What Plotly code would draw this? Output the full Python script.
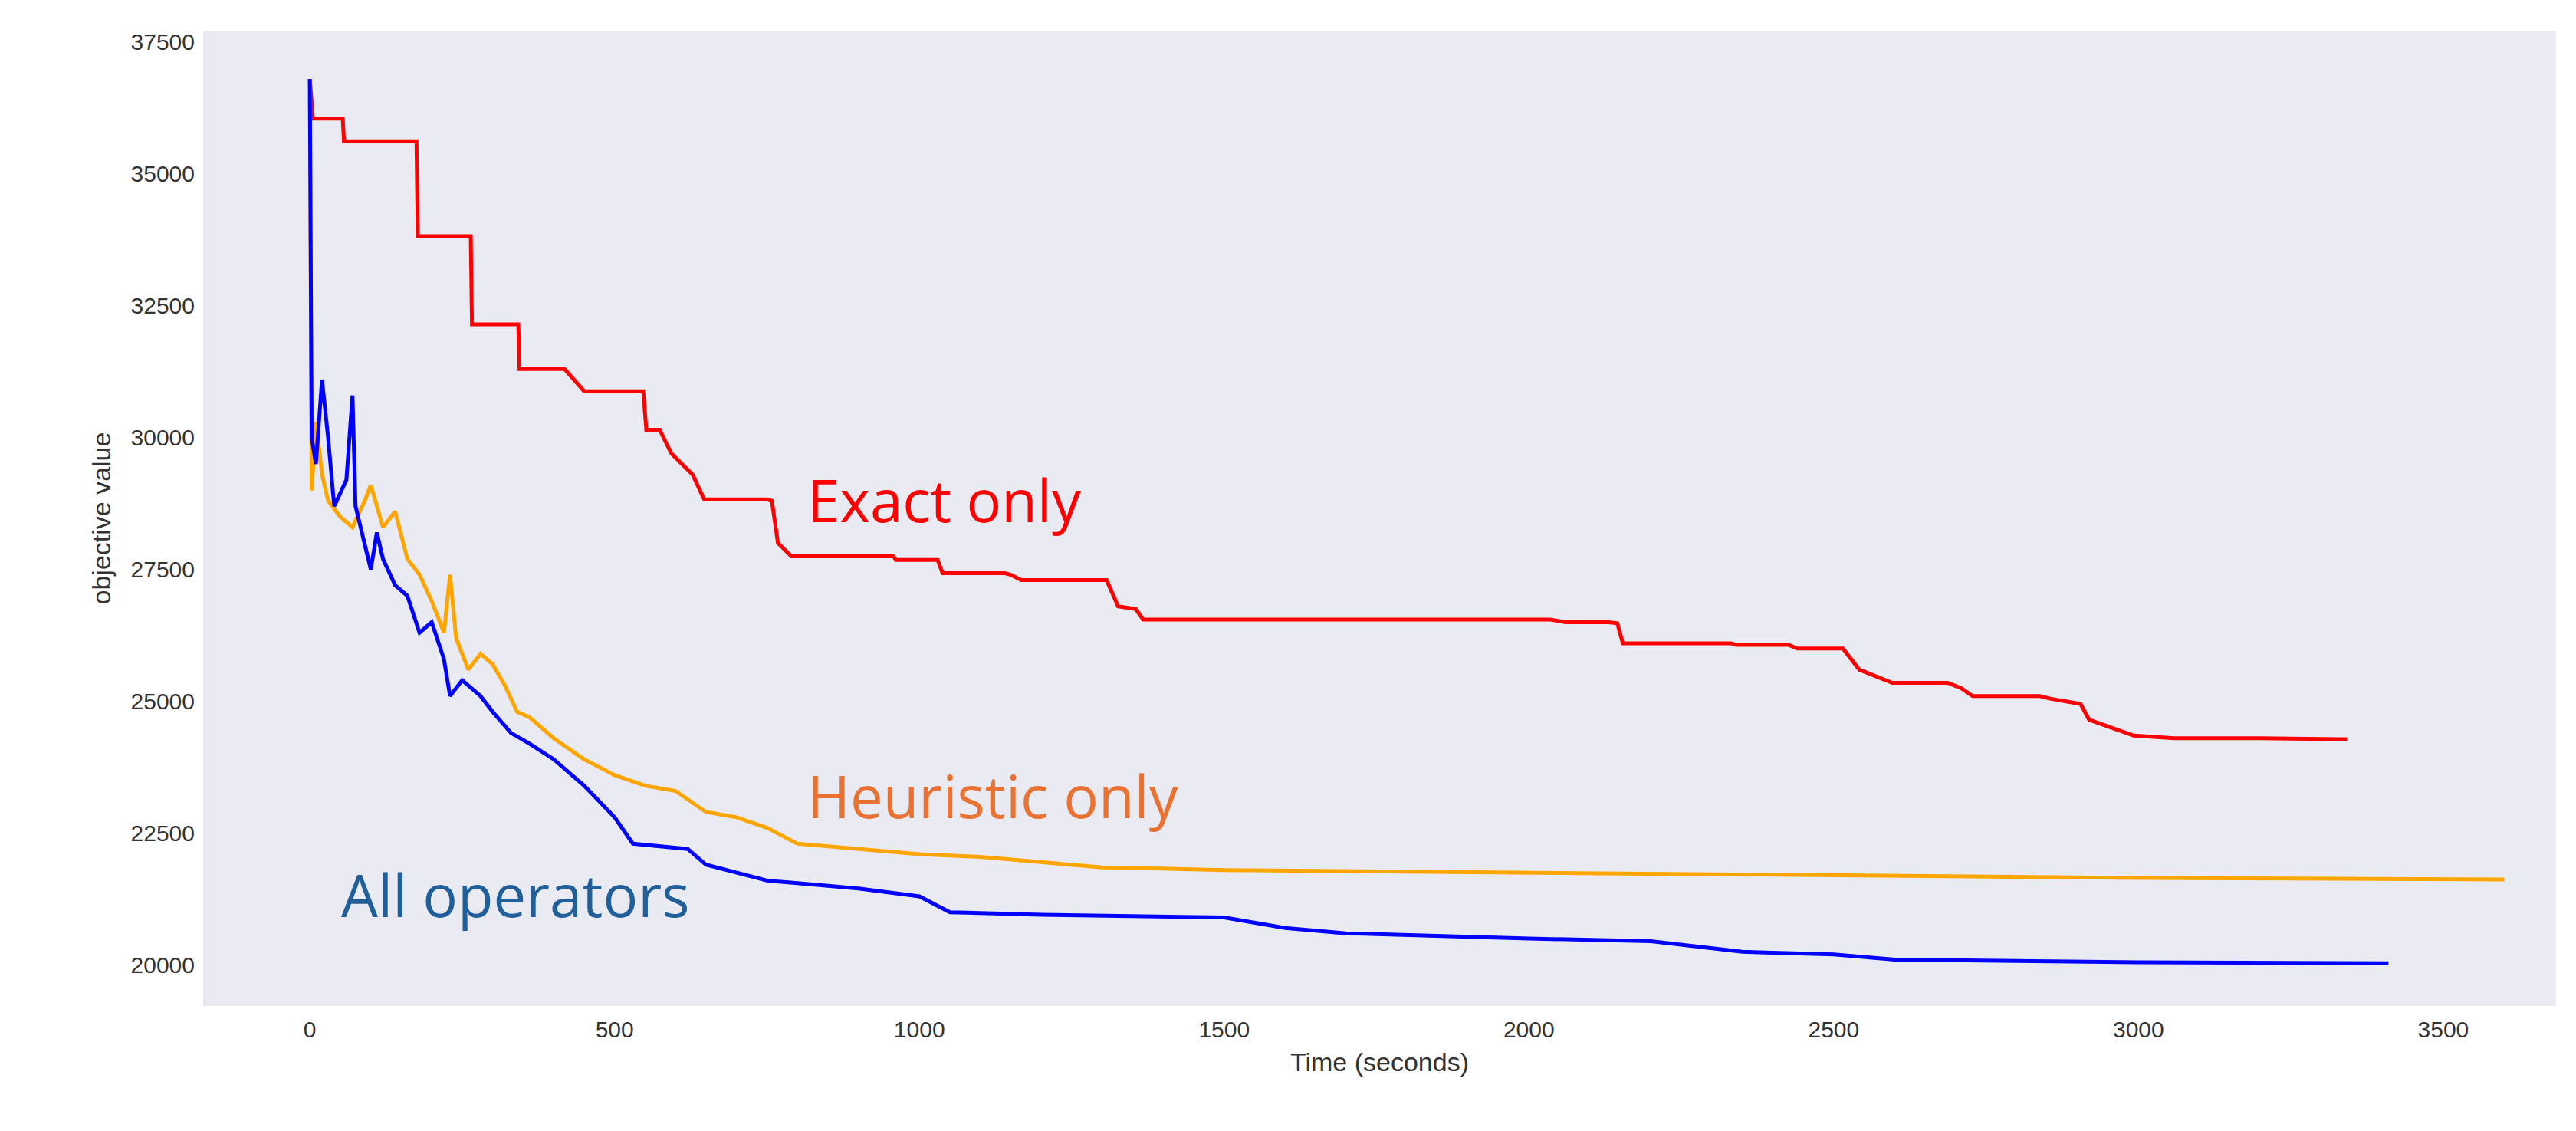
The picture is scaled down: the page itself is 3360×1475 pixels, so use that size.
import plotly.graph_objects as go

# =========================
# DATA
# =========================

exact_t = [0, 5, 54, 56, 175, 177, 264, 266, 342, 344, 418, 450, 547, 552, 574, 593, 628, 647, 750,
           758, 768, 790, 957, 962, 1030, 1038, 1140, 1150, 1167, 1307, 1326, 1355, 1367, 2035, 2060,
           2130, 2145, 2154, 2332, 2340, 2426, 2440, 2515, 2542, 2596, 2687, 2709, 2728, 2838, 2855,
           2905, 2919, 2992, 3059, 3200, 3342]
exact_v = [36800, 36050, 36050, 35620, 35620, 33820, 33820, 32150, 32150, 31300, 31300, 30880, 30880,
           30150, 30150, 29700, 29300, 28830, 28830, 28800, 28000, 27750, 27750, 27680, 27680, 27430,
           27430, 27400, 27300, 27300, 26800, 26750, 26550, 26550, 26500, 26500, 26480, 26100, 26100,
           26070, 26070, 26000, 26000, 25600, 25350, 25350, 25250, 25100, 25100, 25050, 24950, 24650,
           24350, 24300, 24300, 24280]

heur_t = [0, 3, 10, 20, 30, 50, 70, 90, 100, 120, 140, 160, 180, 200, 220, 230, 240, 260, 280, 300,
          320, 340, 360, 400, 450, 500, 550, 600, 650, 700, 750, 800, 850, 900, 1000, 1100, 1200, 1300,
          1500, 2000, 2500, 3000, 3600]
heur_v = [36800, 29000, 30300, 29300, 28800, 28500, 28300, 28800, 29100, 28300, 28600, 27700, 27400,
          26900, 26300, 27400, 26200, 25600, 25900, 25700, 25300, 24800, 24700, 24300, 23900, 23600,
          23400, 23300, 22900, 22800, 22600, 22300, 22250, 22200, 22100, 22050, 21950, 21850, 21800,
          21750, 21700, 21650, 21620]

all_t = [0, 3, 10, 20, 30, 40, 60, 70, 75, 90, 100, 110, 120, 140, 160, 180, 200, 220, 230, 250, 280,
         300, 330, 360, 400, 450, 500, 530, 580, 620, 650, 700, 750, 800, 900, 1000, 1050, 1200, 1500,
         1600, 1700, 2000, 2200, 2350, 2500, 2600, 3000, 3410]
all_v = [36800, 30000, 29500, 31100, 30000, 28700, 29200, 30800, 28700, 28000, 27500, 28200, 27700,
         27200, 27000, 26300, 26500, 25800, 25100, 25400, 25100, 24800, 24400, 24200, 23900, 23400,
         22800, 22300, 22250, 22200, 21900, 21750, 21600, 21550, 21450, 21300, 21000, 20950, 20900,
         20700, 20600, 20500, 20450, 20250, 20200, 20100, 20050, 20030]

x_ticks = [0, 500, 1000, 1500, 2000, 2500, 3000, 3500]
y_ticks = [20000, 22500, 25000, 27500, 30000, 32500, 35000, 37500]

# =========================
# FIGURE
# =========================

fig = go.Figure()

fig.add_trace(go.Scatter(x=exact_t, y=exact_v, mode="lines", line=dict(color="red", width=5),
                         name="Exact only"))
fig.add_trace(go.Scatter(x=heur_t, y=heur_v, mode="lines", line=dict(color="orange", width=5),
                         name="Heuristic only"))
fig.add_trace(go.Scatter(x=all_t, y=all_v, mode="lines", line=dict(color="blue", width=5),
                         name="All operators"))

labels = [
    ("Exact only", 814, 28830, "red"),
    ("Heuristic only", 814, 23215, "#E97132"),
    ("All operators", 49, 21343, "#215F9A"),
]
for text, x, y, color in labels:
    fig.add_annotation(x=x, y=y, text=text, showarrow=False, xanchor="left", yanchor="middle",
                       font=dict(size=76, color=color, family="Open Sans"))

fig.update_xaxes(range=[-175, 3685], tickvals=x_ticks, tickformat="d", showgrid=False,
                 zeroline=False, title=dict(text="Time (seconds)", font=dict(size=34)),
                 tickfont=dict(size=30), ticks="", ticklabelstandoff=10)
fig.update_yaxes(range=[19221, 37718], tickvals=y_ticks, tickformat="d", showgrid=False,
                 zeroline=False, title=dict(text="objective value", font=dict(size=34)),
                 tickfont=dict(size=30), ticks="", ticklabelstandoff=10)

fig.update_layout(
    width=3360,
    height=1475,
    showlegend=False,
    plot_bgcolor="#EAEAF2",
    paper_bgcolor="white",
    font=dict(family="Liberation Sans", color="#333333"),
    margin=dict(l=257, r=34, t=32, b=171),
)

fig.write_html("out.html")
